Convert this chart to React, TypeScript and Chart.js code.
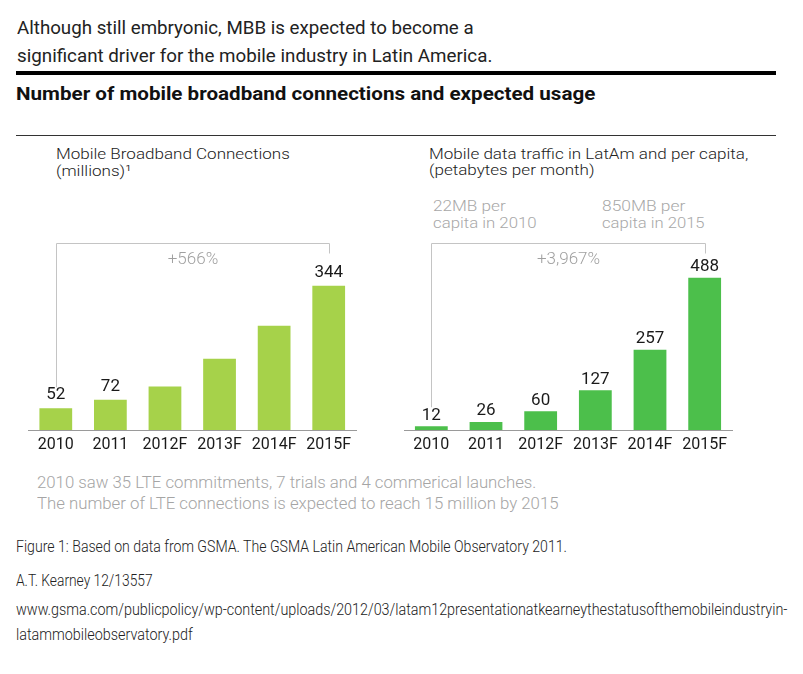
import React, { useEffect, useLayoutEffect, useRef, useState } from "react";
import { Chart, registerables } from "chart.js";

Chart.register(...registerables);

const FONT = "Roboto, 'Liberation Sans', 'DejaVu Sans', sans-serif";

// ---- data ----
const CATEGORIES = ["2010", "2011", "2012F", "2013F", "2014F", "2015F"];
const MBB_CONNECTIONS = [52, 72, 104, 170, 249, 344];
const MBB_LABELED = [true, true, false, false, false, true];
const DATA_TRAFFIC = [12, 26, 60, 127, 257, 488];
const TRAFFIC_LABELED = [true, true, true, true, true, true];
const MBB_GROWTH = "+566%";
const TRAFFIC_GROWTH = "+3,967%";
const MBB_Y_MAX = 525;
const TRAFFIC_Y_MAX = 705;

type TxtProps = {
  x: number;
  base: number;
  w?: number;
  size: number;
  weight?: number;
  color?: string;
  children: React.ReactNode;
};

function Txt({ x, base, w, size, weight = 300, color = "#222", children }: TxtProps) {
  const ref = useRef<HTMLSpanElement>(null);
  const [sx, setSx] = useState(1);
  useLayoutEffect(() => {
    const measure = () => {
      if (ref.current && w) {
        const m = ref.current.offsetWidth;
        if (m) setSx(w / m);
      }
    };
    measure();
    if ((document as any).fonts && (document as any).fonts.ready) {
      (document as any).fonts.ready.then(measure);
    }
  }, [w, children]);
  return (
    <span
      ref={ref}
      style={{
        position: "absolute",
        left: x,
        top: base - 0.84 * size,
        fontSize: size,
        lineHeight: 1,
        fontFamily: FONT,
        fontWeight: weight,
        color,
        whiteSpace: "nowrap",
        transform: `scaleX(${sx})`,
        transformOrigin: "0 0",
      }}
    >
      {children}
    </span>
  );
}

function BarChart(props: {
  left: number;
  values: number[];
  labeled: boolean[];
  color: string;
  yMax: number;
  growth: string;
  padLeft: number;
  padRight: number;
  labelOffset: number;
}) {
  const ref = useRef<HTMLCanvasElement>(null);
  useEffect(() => {
    if (!ref.current) return;
    const { values, labeled, color, yMax, growth, padLeft, padRight, labelOffset } = props;
    const annot = {
      id: "annot",
      afterDatasetsDraw(chart: any) {
        const { ctx, chartArea } = chart;
        const bars = chart.getDatasetMeta(0).data;
        ctx.save();
        ctx.font = `400 17px ${FONT}`;
        ctx.fillStyle = "#1a1a1a";
        ctx.textAlign = "center";
        ctx.textBaseline = "middle";
        bars.forEach((b: any, i: number) => {
          if (labeled[i]) ctx.fillText(String(values[i]), b.x, b.y - labelOffset);
        });
        const first = bars[0];
        const last = bars[bars.length - 1];
        const by = Math.round(chartArea.top + 33) + 0.5;
        const x1 = Math.round(first.x) + 0.5;
        const x2 = Math.round(last.x) + 0.5;
        ctx.strokeStyle = "#c4c4c4";
        ctx.lineWidth = 1;
        ctx.beginPath();
        ctx.moveTo(x1, first.y - labelOffset - 8);
        ctx.lineTo(x1, by);
        ctx.lineTo(x2, by);
        ctx.lineTo(x2, by + 10);
        ctx.stroke();
        ctx.font = `300 17px ${FONT}`;
        ctx.fillStyle = "#a0a0a0";
        ctx.fillText(growth, (x1 + x2) / 2, by + 16);
        ctx.restore();
      },
    };
    const chart = new Chart(ref.current, {
      type: "bar",
      data: {
        labels: CATEGORIES,
        datasets: [
          {
            data: values,
            backgroundColor: color,
            borderWidth: 0,
            barPercentage: 0.6,
            categoryPercentage: 1,
          },
        ],
      },
      options: {
        responsive: false,
        animation: false,
        devicePixelRatio: 1,
        layout: { padding: { top: 30, left: padLeft, right: padRight, bottom: 0 } },
        plugins: { legend: { display: false }, tooltip: { enabled: false } },
        scales: {
          x: {
            grid: { display: false, drawTicks: false },
            border: { display: true, color: "#9a9a9a", width: 1 },
            ticks: {
              padding: 6,
              color: "#1a1a1a",
              font: { family: FONT, size: 16, weight: "400" as any, lineHeight: 1.125 },
            },
          },
          y: { display: false, min: 0, max: yMax },
        },
      },
      plugins: [annot],
    });
    return () => chart.destroy();
  }, []);
  return (
    <canvas
      ref={ref}
      width={345}
      height={280}
      style={{ position: "absolute", left: props.left, top: 180, width: 345, height: 280 }}
    />
  );
}

export default function App() {
  return (
    <div
      style={{
        position: "absolute",
        left: 0,
        top: 0,
        width: 803,
        height: 674,
        background: "#fff",
        overflow: "hidden",
      }}
    >
      <Txt x={17} base={34} w={457} size={19} weight={400}>
        Although still embryonic, MBB is expected to become a
      </Txt>
      <Txt x={17} base={61.5} w={475} size={19} weight={400}>
        significant driver for the mobile industry in Latin America.
      </Txt>
      <div style={{ position: "absolute", left: 16, top: 71, width: 760, height: 4, background: "#000" }} />
      <Txt x={16} base={100.5} w={579} size={18.5} weight={700} color="#111">
        Number of mobile broadband connections and expected usage
      </Txt>
      <div style={{ position: "absolute", left: 16, top: 135, width: 760, height: 1, background: "#333" }} />

      <Txt x={55.5} base={160.5} w={234} size={15.5}>
        Mobile Broadband Connections
      </Txt>
      <Txt x={55.5} base={177} w={75} size={15.5}>
        (millions)¹
      </Txt>
      <Txt x={429} base={160} w={319} size={15.5}>
        Mobile data traffic in LatAm and per capita,
      </Txt>
      <Txt x={429} base={176.5} w={166} size={15.5}>
        (petabytes per month)
      </Txt>
      <Txt x={433} base={212.5} w={73} size={15.5} color="#a8a8a8">
        22MB per
      </Txt>
      <Txt x={433} base={229.5} w={104} size={15.5} color="#a8a8a8">
        capita in 2010
      </Txt>
      <Txt x={602} base={212.5} w={83} size={15.5} color="#a8a8a8">
        850MB per
      </Txt>
      <Txt x={602} base={229.5} w={103} size={15.5} color="#a8a8a8">
        capita in 2015
      </Txt>

      <BarChart
        left={20}
        values={MBB_CONNECTIONS}
        labeled={MBB_LABELED}
        color="#a6d24a"
        yMax={MBB_Y_MAX}
        growth={MBB_GROWTH}
        padLeft={8.5}
        padRight={9}
        labelOffset={13}
      />
      <BarChart
        left={395}
        values={DATA_TRAFFIC}
        labeled={TRAFFIC_LABELED}
        color="#4cbf4b"
        yMax={TRAFFIC_Y_MAX}
        growth={TRAFFIC_GROWTH}
        padLeft={9}
        padRight={8}
        labelOffset={11}
      />

      <Txt x={36.5} base={488} w={499} size={17} color="#a5a5a5">
        2010 saw 35 LTE commitments, 7 trials and 4 commerical launches.
      </Txt>
      <Txt x={36.5} base={509} w={522} size={17} color="#a5a5a5">
        The number of LTE connections is expected to reach 15 million by 2015
      </Txt>

      <Txt x={16} base={552.5} w={551} size={16}>
        Figure 1: Based on data from GSMA. The GSMA Latin American Mobile Observatory 2011.
      </Txt>
      <Txt x={16} base={586} w={137} size={16}>
        A.T. Kearney 12/13557
      </Txt>
      <Txt x={16} base={615} w={771} size={16}>
        www.gsma.com/publicpolicy/wp-content/uploads/2012/03/latam12presentationatkearneythestatusofthemobileindustryin-
      </Txt>
      <Txt x={16} base={640} w={177} size={16}>
        latammobileobservatory.pdf
      </Txt>
    </div>
  );
}
